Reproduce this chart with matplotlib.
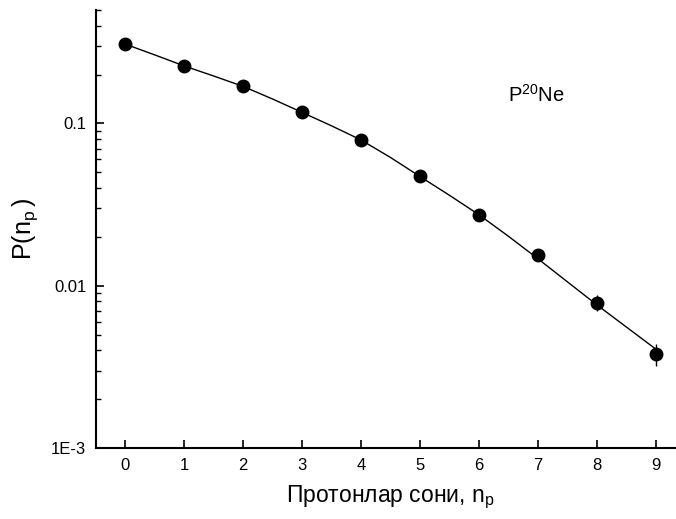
import numpy as np
import matplotlib
matplotlib.use("Agg")
from matplotlib import pyplot as plt
from matplotlib.ticker import FixedLocator, FixedFormatter, NullFormatter

plt.rcParams['font.family'] = ['Liberation Sans', 'DejaVu Sans']
plt.rcParams['mathtext.fontset'] = 'custom'
plt.rcParams['mathtext.rm'] = 'Liberation Sans'
plt.rcParams['mathtext.it'] = 'Liberation Sans'

# measured multiplicity distribution of protons, p-20Ne
n_p = [0, 1, 2, 3, 4, 5, 6, 7, 8, 9]
P_n = [0.3074, 0.2258, 0.1699, 0.1169, 0.0789, 0.0473, 0.0274, 0.01553, 0.00788, 0.0038]
P_err = [0.004, 0.003, 0.002, 0.0015, 0.0012, 0.0009, 0.0007, 0.0006, 0.0009, 0.0006]

# fitted curve
fit_x = [0, 0.5, 1, 1.5, 2, 2.5, 3, 3.5, 4, 4.5, 5, 5.5, 6, 6.5, 7, 7.5, 8, 8.5, 9]
fit_y = [0.3076, 0.2642, 0.2259, 0.1959, 0.1690, 0.1413, 0.1169, 0.0966, 0.0791,
         0.0617, 0.0471, 0.0361, 0.0274, 0.0202, 0.01469, 0.01059, 0.00764,
         0.00558, 0.00408]

fig = plt.figure(figsize=(6.76, 5.19), dpi=100)
ax = fig.add_axes([96/676, 71/519, 589/676, 438/519])

ax.plot(fit_x, fit_y, color='black', lw=1.0, zorder=2)
ax.errorbar(n_p, P_n, yerr=P_err, fmt='o', color='black', ms=9,
            elinewidth=1.0, capsize=0, zorder=3)

ax.set_yscale('log')
ax.set_xlim(-0.5, 9.5)
ax.set_ylim(1e-3, 0.5)

ax.xaxis.set_major_locator(FixedLocator(n_p))
ax.yaxis.set_major_locator(FixedLocator([1e-3, 1e-2, 1e-1]))
ax.yaxis.set_major_formatter(FixedFormatter(['1E-3', '0.01', '0.1']))
minors = [m * d for d in (1e-3, 1e-2, 1e-1) for m in range(2, 10) if m * d <= 0.5]
ax.yaxis.set_minor_locator(FixedLocator(minors))
ax.yaxis.set_minor_formatter(NullFormatter())

for s in ('top', 'right'):
    ax.spines[s].set_visible(False)
for s in ('left', 'bottom'):
    ax.spines[s].set_linewidth(1.5)

ax.tick_params(which='major', direction='in', length=6, width=1.2,
               labelsize=12, pad=7)
ax.tick_params(which='minor', direction='in', length=3.5, width=1.0)

ax.set_xlabel('Протонлар сони, $\\mathregular{n_{p}}$', fontsize=16.5, labelpad=8)
ax.set_ylabel('$\\mathregular{P(n_{p}\\,)}$', fontsize=18, labelpad=8)

fig.text(508/676, 1 - 102/519, '$\\mathregular{P^{20}Ne}$', fontsize=14.5,
         va='baseline', ha='left')

fig.savefig('out.png', dpi=100)
